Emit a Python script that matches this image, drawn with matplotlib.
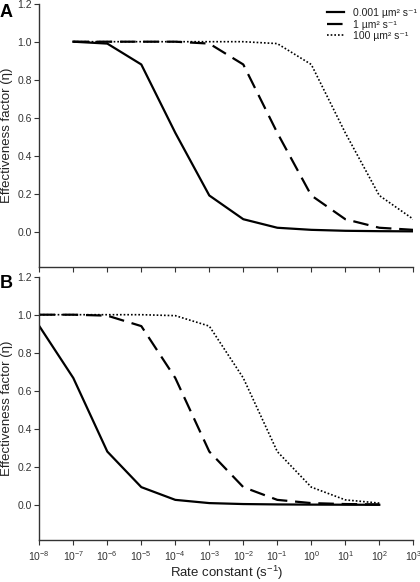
import matplotlib
matplotlib.use("Agg")
import matplotlib.pyplot as plt
import numpy as np

plt.rcParams['font.family'] = ['Liberation Sans', 'DejaVu Sans']
plt.rcParams['mathtext.fontset'] = 'custom'
plt.rcParams['mathtext.rm'] = 'Liberation Sans'
plt.rcParams['mathtext.it'] = 'Liberation Sans:italic'

# Data
exp_a = [-7, -6, -5, -4, -3, -2, -1, 0, 1, 2, 3]
a_slow = [1.0, 0.99, 0.88, 0.52, 0.19, 0.065, 0.02, 0.009, 0.004, 0.002, 0.001]
a_mid = [1.0, 1.0, 1.0, 1.0, 0.99, 0.88, 0.52, 0.19, 0.065, 0.02, 0.009]
a_fast = [1.0, 1.0, 1.0, 1.0, 1.0, 1.0, 0.99, 0.88, 0.52, 0.19, 0.065]

exp_b = [-8, -7, -6, -5, -4, -3, -2, -1, 0, 1, 2]
b_slow = [0.94, 0.667, 0.28, 0.093, 0.026, 0.009, 0.004, 0.002, 0.001, 0.0005, 0.0]
b_mid = [1.0, 1.0, 0.995, 0.94, 0.667, 0.28, 0.093, 0.026, 0.009, 0.004, 0.002]
b_fast = [1.0, 1.0, 1.0, 1.0, 0.995, 0.94, 0.667, 0.28, 0.093, 0.026, 0.009]

series_labels = ['0.001 µm² s⁻¹', '1 µm² s⁻¹', '100 µm² s⁻¹']
xtick_exps = list(range(-8, 4))
ytick_vals = [0.0, 0.2, 0.4, 0.6, 0.8, 1.0, 1.2]

styles = [dict(ls='-', lw=1.6),
          dict(ls=(0, (7, 3.5)), lw=1.6),
          dict(ls=(0, (1, 1.2)), lw=1.2)]

fig = plt.figure(figsize=(4.2, 5.82), dpi=100)
axA = fig.add_axes([0.0936, 0.5418, 0.984 - 0.0936, 0.9936 - 0.5418])
axB = fig.add_axes([0.0936, 0.0722, 0.984 - 0.0936, 0.5246 - 0.0722])

for ax, ex, ys in [(axA, exp_a, [a_slow, a_mid, a_fast]),
                   (axB, exp_b, [b_slow, b_mid, b_fast])]:
    x = [10.0 ** e for e in ex]
    for y, st, lab in zip(ys, styles, series_labels):
        ax.plot(x, y, color='black', label=lab, **st)
    ax.set_xscale('log')
    ax.set_xlim(1e-8, 1e3)
    ax.set_ylim(-0.185, 1.2)
    ax.set_xticks([10.0 ** e for e in xtick_exps])
    ax.minorticks_off()
    ax.set_yticks(ytick_vals)
    ax.set_yticklabels([f'{v:.1f}' for v in ytick_vals])
    ax.spines['top'].set_visible(False)
    ax.spines['right'].set_visible(False)
    for s in ['left', 'bottom']:
        ax.spines[s].set_linewidth(1.0)
        ax.spines[s].set_color('#333333')
    ax.tick_params(direction='out', length=3.5, width=0.8, colors='#333333',
                   labelsize=7.5, labelcolor='#333333', pad=2)
    ax.set_ylabel('Effectiveness factor (η)', fontsize=9.5, color='#222222')
    ax.yaxis.set_label_coords(-0.07, 0.5)

axA.set_xticklabels([])
axB.set_xticklabels([f'$10^{{{e}}}$' for e in xtick_exps])
axB.tick_params(axis='x', labelsize=7.5, pad=3)
axB.set_xlabel('Rate constant (s$^{-1}$)', fontsize=9.5, color='#222222')
axB.xaxis.set_label_coords(0.5, -0.09)

leg = axA.legend(loc='upper right', bbox_to_anchor=(417 / 420, 1 - 8 / 582),
                 bbox_transform=fig.transFigure, frameon=False,
                 fontsize=7.5, handlelength=1.6, handletextpad=0.9,
                 labelspacing=0.15, borderaxespad=0, borderpad=0)
for t in leg.get_texts():
    t.set_color('#222222')

fig.text(0.0, 0.993, 'A', fontsize=13, fontweight='bold', va='top', ha='left')
fig.text(0.0, 0.528, 'B', fontsize=13, fontweight='bold', va='top', ha='left')

fig.savefig('out.png', dpi=100)
